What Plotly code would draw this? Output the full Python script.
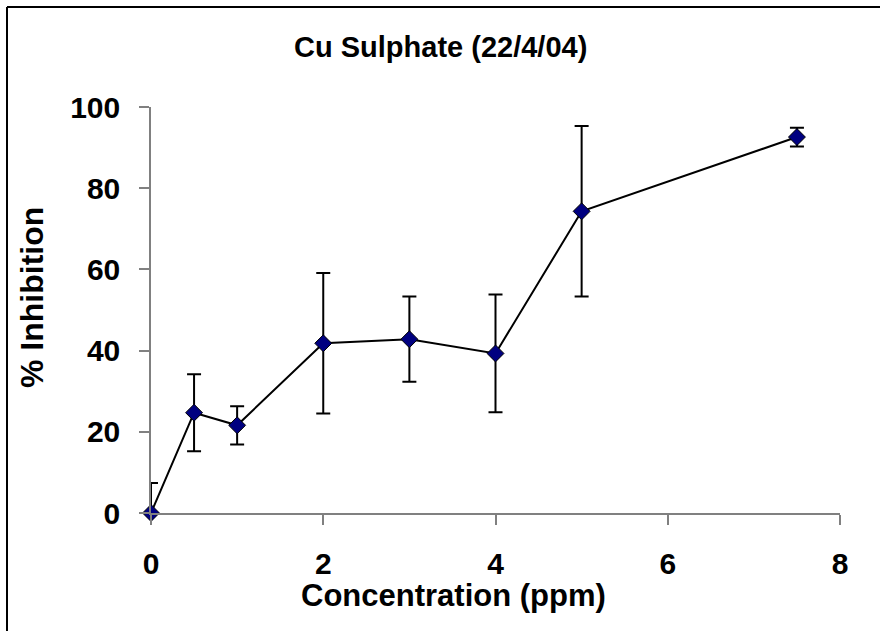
import plotly.graph_objects as go

# Data
concentration = [0, 0.5, 1, 2, 3, 4, 5, 7.5]
inhibition = [0.0, 24.7, 21.6, 41.8, 42.8, 39.3, 74.3, 92.6]
error = [7.4, 9.5, 4.7, 17.3, 10.5, 14.5, 21.0, 2.3]

x_ticks = [0, 2, 4, 6, 8]
y_ticks = [0, 20, 40, 60, 80, 100]

title_text = "Cu Sulphate (22/4/04)"
x_title = "Concentration (ppm)"
y_title = "% Inhibition"

FONT = "Liberation Sans, Arial, sans-serif"
W, H = 880, 631
ML, MR, MT, MB = 151, 40, 107, 118
PW = W - ML - MR
PH = H - MT - MB


def px_x(px):
    return (px - ML) / PW


def px_y(py):
    return (H - MB - py) / PH


# lower bars are drawn only down to the axis floor (as in the reference)
err_minus = [min(e, v) for e, v in zip(error, inhibition)]

fig = go.Figure()
fig.add_trace(go.Scatter(
    x=concentration, y=inhibition,
    mode="lines+markers",
    line=dict(color="black", width=2),
    marker=dict(symbol="diamond", size=13, color="#000080",
                line=dict(color="black", width=1)),
    error_y=dict(type="data", array=error, arrayminus=err_minus,
                 symmetric=False, color="black", thickness=2, width=7),
    cliponaxis=False,
    showlegend=False,
))

axis_common = dict(
    showgrid=False, zeroline=False, showline=True,
    linecolor="#808080", linewidth=1.5,
    ticks="outside", ticklen=10, tickwidth=1.5, tickcolor="#808080",
    tickfont=dict(family=FONT, size=30, color="black", weight="bold"),
)

fig.update_xaxes(range=[0, 8], tickvals=x_ticks, ticktext=[str(v) for v in x_ticks],
                 ticklabelstandoff=13, **axis_common)
fig.update_yaxes(range=[0, 100], tickvals=y_ticks, ticktext=[str(v) for v in y_ticks],
                 ticklabelstandoff=13, **axis_common)

fig.update_layout(
    width=W, height=H,
    margin=dict(l=ML, r=MR, t=MT, b=MB, pad=0),
    plot_bgcolor="white", paper_bgcolor="white",
    annotations=[
        dict(text=title_text, xref="paper", yref="paper",
             x=px_x(440), y=px_y(47), xanchor="center", yanchor="middle",
             showarrow=False,
             font=dict(family=FONT, size=29, color="black", weight="bold")),
        dict(text=x_title, xref="paper", yref="paper",
             x=px_x(453), y=px_y(595), xanchor="center", yanchor="middle",
             showarrow=False,
             font=dict(family=FONT, size=31, color="black", weight="bold")),
        dict(text=y_title, xref="paper", yref="paper",
             x=px_x(32), y=px_y(298), xanchor="center", yanchor="middle",
             textangle=-90, showarrow=False,
             font=dict(family=FONT, size=32, color="black", weight="bold")),
    ],
    shapes=[
        dict(type="line", xref="paper", yref="paper",
             x0=px_x(7), x1=px_x(890), y0=px_y(7), y1=px_y(7),
             line=dict(color="black", width=2)),
        dict(type="line", xref="paper", yref="paper",
             x0=px_x(7), x1=px_x(7), y0=px_y(7), y1=px_y(640),
             line=dict(color="black", width=2)),
    ],
)

fig.write_html("out.html")
